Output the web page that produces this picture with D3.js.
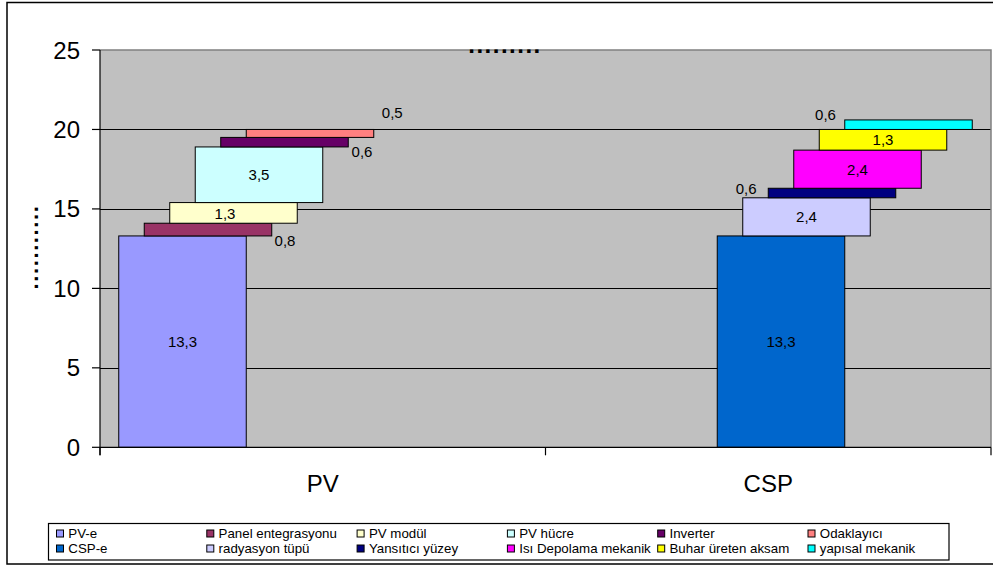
<!DOCTYPE html>
<html>
<head>
<meta charset="utf-8">
<script src="https://cdn.jsdelivr.net/npm/d3@7"></script>
<style>
  html, body { margin: 0; padding: 0; background: #fff; }
  svg { display: block; font-family: "Liberation Sans", Arial, sans-serif; }
</style>
</head>
<body>
<svg id="chart" width="993" height="566"></svg>
<script>
// ---- data ----
const categories = ["PV", "CSP"];
const pvSeries = ["PV-e", "Panel entegrasyonu", "PV modül", "PV hücre", "Inverter", "Odaklayıcı"];
const pvValues = [13.3, 0.8, 1.3, 3.5, 0.6, 0.5];
const cspSeries = ["CSP-e", "radyasyon tüpü", "Yansıtıcı yüzey", "Isı Depolama mekanik", "Buhar üreten aksam", "yapısal mekanik"];
const cspValues = [13.3, 2.4, 0.6, 2.4, 1.3, 0.6];
const yTicks = [0, 5, 10, 15, 20, 25];
const topTitle = ".........";
const yTitle = "...........";

// ---- styles ----
const pvColors = ["#9999FF", "#993366", "#FFFFCC", "#CCFFFF", "#660066", "#FF8080"];
const cspColors = ["#0066CC", "#CCCCFF", "#000080", "#FF00FF", "#FFFF00", "#00FFFF"];
// label nudges (px) relative to bar centre, mimicking the original placement
const pvNudge = [[0, 0], [77, 10.5], [-8.5, 1], [0, 0], [77.5, 9.4], [82.3, -20.8]];
const cspNudge = [[0, 0], [0, 0], [-85.8, -4.6], [0, 0], [0, 0], [-83, -10.3]];

const svg = d3.select("#chart");
const plot = { left: 100, right: 991, top: 50, bottom: 447.3 };

// outer border
svg.append("rect").attr("x", 7).attr("y", 2.5).attr("width", 1000).attr("height", 561.5)
  .attr("fill", "#fff").attr("stroke", "#000").attr("stroke-width", 1.5);

const x = d3.scaleBand().domain(categories).range([plot.left, plot.right]).paddingInner(0).paddingOuter(0);
const y = d3.scaleLinear().domain([0, 25]).range([plot.bottom, plot.top]);

// plot background
svg.append("rect").attr("x", plot.left).attr("y", plot.top)
  .attr("width", plot.right - plot.left).attr("height", plot.bottom - plot.top)
  .attr("fill", "#C0C0C0");

// gridlines
svg.append("g").selectAll("line").data(yTicks.filter(t => t > 0 && t < 25)).join("line")
  .attr("x1", plot.left).attr("x2", plot.right)
  .attr("y1", d => Math.round(y(d)) + 0.5).attr("y2", d => Math.round(y(d)) + 0.5)
  .attr("stroke", "#000").attr("stroke-width", 1);

// plot border top/right (gray)
svg.append("path")
  .attr("d", `M${plot.left},${plot.top}H${plot.right}V${plot.bottom}`)
  .attr("fill", "none").attr("stroke", "#808080").attr("stroke-width", 1.5);

// bars
const nSeries = pvSeries.length + cspSeries.length;
const overlap = 0.8, gapWidth = 0.294;
const barW = x.bandwidth() / (gapWidth + 1 + (nSeries - 1) * (1 - overlap));
const step = barW * (1 - overlap);
const clusterW = barW + (nSeries - 1) * step;

function buildBars(cat, names, values, colors, nudges, offsetIndex) {
  let base = 0;
  return values.map((v, i) => {
    const b = { cat, name: names[i], value: v, base, color: colors[i], nudge: nudges[i], idx: offsetIndex + i };
    base += v;
    return b;
  });
}
const bars = buildBars("PV", pvSeries, pvValues, pvColors, pvNudge, 0)
  .concat(buildBars("CSP", cspSeries, cspValues, cspColors, cspNudge, pvSeries.length));

const barX = d => x(d.cat) + (x.bandwidth() - clusterW) / 2 + d.idx * step;

svg.append("g").selectAll("rect").data(bars).join("rect")
  .attr("x", barX)
  .attr("y", d => y(d.base + d.value))
  .attr("width", barW)
  .attr("height", d => y(d.base) - y(d.base + d.value))
  .attr("fill", d => d.color)
  .attr("stroke", "#000").attr("stroke-width", 1);

const fmt = v => String(v).replace(".", ",");
svg.append("g").selectAll("text").data(bars).join("text")
  .attr("x", d => barX(d) + barW / 2 + d.nudge[0])
  .attr("y", d => (y(d.base) + y(d.base + d.value)) / 2 + d.nudge[1])
  .attr("text-anchor", "middle").attr("dominant-baseline", "central")
  .attr("font-size", 15).attr("fill", "#000")
  .text(d => fmt(d.value));

// y axis
const yAxis = svg.append("g");
yAxis.append("line").attr("x1", plot.left).attr("x2", plot.left)
  .attr("y1", plot.top).attr("y2", plot.bottom + 8).attr("stroke", "#000").attr("stroke-width", 1.2);
yAxis.selectAll("line.tick").data(yTicks).join("line").attr("class", "tick")
  .attr("x1", plot.left - 8).attr("x2", plot.left)
  .attr("y1", d => y(d)).attr("y2", d => y(d)).attr("stroke", "#000").attr("stroke-width", 1.2);
yAxis.selectAll("text").data(yTicks).join("text")
  .attr("x", 80).attr("y", d => y(d))
  .attr("text-anchor", "end").attr("dominant-baseline", "central")
  .attr("font-size", 24).attr("fill", "#000")
  .text(d => d);

// x axis
const xAxis = svg.append("g");
xAxis.append("line").attr("x1", plot.left).attr("x2", plot.right)
  .attr("y1", plot.bottom).attr("y2", plot.bottom).attr("stroke", "#000").attr("stroke-width", 1.2);
const xTickPos = [plot.left].concat(categories.map(c => x(c) + x.bandwidth()));
xAxis.selectAll("line.tick").data(xTickPos).join("line").attr("class", "tick")
  .attr("x1", d => d).attr("x2", d => d)
  .attr("y1", plot.bottom).attr("y2", plot.bottom + 8).attr("stroke", "#000").attr("stroke-width", 1.2);
xAxis.selectAll("text").data(categories).join("text")
  .attr("x", d => x(d) + x.bandwidth() / 2).attr("y", 483.5)
  .attr("text-anchor", "middle").attr("dominant-baseline", "central")
  .attr("font-size", 24).attr("fill", "#000")
  .text(d => d);

// titles (rendered as dots in original)
svg.append("text").attr("x", 505).attr("y", 52.5).attr("text-anchor", "middle")
  .attr("font-size", 24).attr("font-weight", "bold").attr("letter-spacing", 1.5)
  .text(topTitle);
svg.append("text").attr("transform", "translate(37.5,247) rotate(-90)")
  .attr("text-anchor", "middle")
  .attr("font-size", 22).attr("font-weight", "bold").attr("letter-spacing", 1.6)
  .text(yTitle);

// legend
const legendItems = pvSeries.map((n, i) => ({ name: n, color: pvColors[i], row: 0, col: i }))
  .concat(cspSeries.map((n, i) => ({ name: n, color: cspColors[i], row: 1, col: i })));
const lg = svg.append("g");
lg.append("rect").attr("x", 48.5).attr("y", 523.5).attr("width", 900.5).attr("height", 36.5)
  .attr("fill", "#fff").attr("stroke", "#000").attr("stroke-width", 1.2);
const colX = c => 56 + c * 150.3;
const rowY = r => 533.5 + r * 15;
const li = lg.selectAll("g.item").data(legendItems).join("g").attr("class", "item");
li.append("rect")
  .attr("x", d => colX(d.col) + 0.5).attr("y", d => rowY(d.row) - 3.5)
  .attr("width", 7).attr("height", 7)
  .attr("fill", d => d.color).attr("stroke", "#000").attr("stroke-width", 1);
li.append("text")
  .attr("x", d => colX(d.col) + 12.3).attr("y", d => rowY(d.row))
  .attr("dominant-baseline", "central").attr("font-size", 13.3).attr("fill", "#000")
  .text(d => d.name);
</script>
</body>
</html>
